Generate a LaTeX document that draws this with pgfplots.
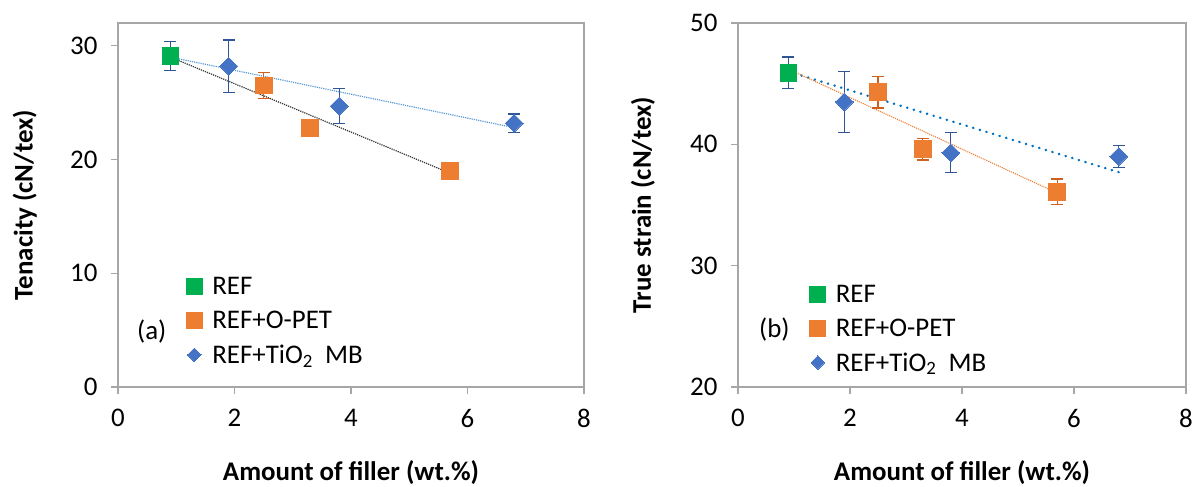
\documentclass[border=0pt]{standalone}
\usepackage{fontspec}
\setmainfont{Carlito}
\usepackage{pgfplots}
\pgfplotsset{compat=1.18}
\definecolor{cgreen}{HTML}{00B050}
\definecolor{corange}{HTML}{ED7D31}
\definecolor{cblue}{HTML}{4472C4}
\definecolor{cbluedark}{HTML}{2F5597}
\definecolor{corangedark}{HTML}{D06020}
\definecolor{ctrendA}{HTML}{5B9BD5}
\definecolor{ctrendB}{HTML}{0070C0}
\definecolor{cax}{HTML}{A6A6A6}
\pgfplotsset{
  myaxis/.style={
    scale only axis, height=364bp,
    xmin=0, xmax=8, xtick={0,2,4,6,8},
    axis line style={cax, line width=1.3bp},
    tick style={cax, line width=1.3bp},
    major tick length=7bp,
    tick align=outside, xtick pos=bottom, ytick pos=left,
    ticklabel style={font=\fontsize{27}{31}\selectfont},
    /pgf/number format/assume math mode=true,
    xticklabel style={yshift=-12bp},
    yticklabel style={xshift=-10bp},
    label style={font=\bfseries\fontsize{27}{31}\selectfont},
    xlabel={Amount of filler (wt.\%)},
    xlabel style={at={(axis description cs:0.5,-0.236)}, anchor=center},
    legend style={draw=none, fill=none, font=\fontsize{27}{31}\selectfont,
      row sep=11bp, column sep=8bp, inner sep=0pt, cells={anchor=west}},
    legend cell align=left,
    legend image code/.code={\draw[##1] plot coordinates {(0bp,0bp)};},
    error bars/error bar style={line width=1.3bp},
  },
  sqg/.style={only marks, mark=square*, mark size=8.4bp, mark options={fill=cgreen, draw=cgreen, line width=0pt},
    legend image post style={mark size=8bp},
    error bars/.cd, y dir=both, y explicit, error bar style={cbluedark, line width=1.3bp},
    error mark options={cbluedark, mark size=6bp, line width=1.3bp, rotate=90}},
  sqo/.style={only marks, mark=square*, mark size=8.4bp, mark options={fill=corange, draw=corange, line width=0pt},
    legend image post style={mark size=8bp},
    error bars/.cd, y dir=both, y explicit, error bar style={corangedark, line width=1.3bp},
    error mark options={corangedark, mark size=6bp, line width=1.3bp, rotate=90}},
  dib/.style={only marks, mark=square*, mark size=6.3bp, mark options={fill=cblue, draw=cblue, line width=0pt, rotate=45},
    legend image post style={mark size=4.8bp},
    error bars/.cd, y dir=both, y explicit, error bar style={cbluedark, line width=1.3bp},
    error mark options={cbluedark, mark size=6bp, line width=1.3bp, rotate=90}},
}
\begin{document}
\begin{tikzpicture}
\useasboundingbox (0,0) rectangle (1195bp,487bp);
% ---------------- (a) ----------------
\begin{axis}[myaxis, at={(118bp,100bp)}, anchor=south west, width=466bp,
  ymin=0, ymax=32, ytick={0,10,20,30},
  ylabel={Tenacity (cN/tex)},
  ylabel style={at={(axis description cs:-0.2,0.5)}, anchor=center},
  legend style={at={(axis cs:1.17,9.85)}, anchor=north west}]
\addplot[ctrendA, densely dotted, line width=1.2bp, forget plot] coordinates {(0.9,29.0) (6.8,22.8)};
\addplot[black!80, densely dotted, line width=1.2bp, forget plot] coordinates {(0.9,29.0) (5.7,18.8)};
\addplot[sqg] coordinates {(0.9,29.1) +- (0,1.3)};
\addlegendentry{REF}
\addplot[sqo] coordinates {(2.5,26.5) +- (0,1.15) (3.3,22.8) +- (0,0.3) (5.7,19.0) +- (0,0.7)};
\addlegendentry{REF+O-PET}
\addplot[dib] coordinates {(1.9,28.2) +- (0,2.3) (3.8,24.7) +- (0,1.55) (6.8,23.2) +- (0,0.8)};
\addlegendentry{REF+TiO\textsubscript{2}\ \ MB}
\node[font=\fontsize{27}{31}\selectfont] at (axis cs:0.58,4.85) {(a)};
\end{axis}
% ---------------- (b) ----------------
\begin{axis}[myaxis, at={(738bp,100bp)}, anchor=south west, width=448bp,
  ymin=20, ymax=50, ytick={20,30,40,50},
  ylabel={True strain (cN/tex)},
  ylabel style={at={(axis description cs:-0.212,0.5)}, anchor=center},
  legend style={at={(axis cs:1.28,28.6)}, anchor=north west}]
\addplot[ctrendB, line cap=round, dash pattern=on 0.1bp off 6.8bp, line width=2.7bp, forget plot] coordinates {(0.9,46.0) (6.8,37.7)};
\addplot[corange, densely dotted, line width=1.1bp, forget plot] coordinates {(0.9,46.2) (5.6,36.2)};
\addplot[sqg] coordinates {(0.9,45.9) +- (0,1.3)};
\addlegendentry{REF}
\addplot[sqo] coordinates {(2.5,44.3) +- (0,1.3) (3.3,39.6) +- (0,0.9) (5.7,36.1) +- (0,1.05)};
\addlegendentry{REF+O-PET}
\addplot[dib] coordinates {(1.9,43.5) +- (0,2.5) (3.8,39.3) +- (0,1.65) (6.8,39.0) +- (0,0.9)};
\addlegendentry{REF+TiO\textsubscript{2}\ \ MB}
\node[font=\fontsize{27}{31}\selectfont] at (axis cs:0.65,24.7) {(b)};
\end{axis}
\end{tikzpicture}
\end{document}
